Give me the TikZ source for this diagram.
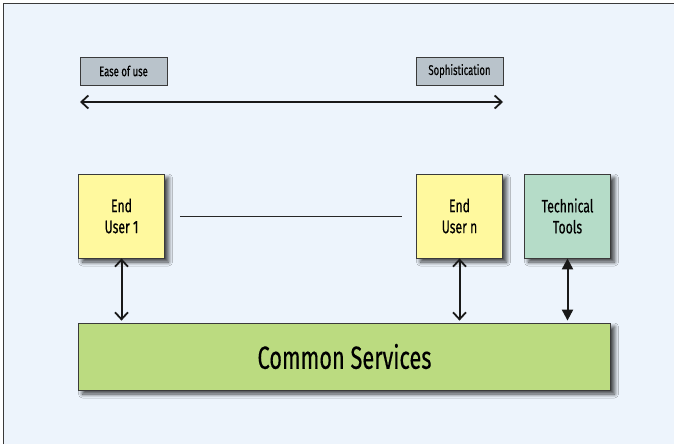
\documentclass[tikz,border=0pt]{standalone}
\usepackage{fontspec}
\setmainfont[FakeStretch=0.68,FakeBold=0.35]{Fira Sans}
\usetikzlibrary{arrows.meta,shadows.blur}
\definecolor{bg}{HTML}{EDF4FC}
\definecolor{lblgray}{HTML}{B9C3CB}
\definecolor{useryel}{HTML}{FFF99E}
\definecolor{techgreen}{HTML}{B5DCC8}
\definecolor{csgreen}{HTML}{BBDB80}
\definecolor{edge}{HTML}{3A3A3A}
\tikzset{
  shad/.style={blur shadow={shadow xshift=4pt,shadow yshift=-4pt,shadow blur steps=8,shadow blur radius=4pt,shadow opacity=75}},
  lbl/.style={draw=edge,line width=0.8pt,fill=lblgray,minimum width=87pt,minimum height=28pt,inner sep=0pt,font=\fontsize{14}{16}\selectfont},
  ubox/.style={draw=edge,line width=0.8pt,shad,minimum width=86pt,minimum height=84pt,inner sep=0pt,align=center,font=\fontsize{18}{21}\selectfont},
  cs/.style={draw=edge,line width=0.8pt,shad,fill=csgreen,minimum width=532pt,minimum height=67pt,inner sep=0pt,font=\fontsize{32}{34}\selectfont},
  conn/.style={line width=2pt,black!90},
  openarr/.style={conn,{Straight Barb[length=7pt,width=13pt,line width=1.8pt]}-{Straight Barb[length=7pt,width=13pt,line width=1.8pt]}},
  filarr/.style={conn,{Triangle[length=11pt,width=11pt]}-{Triangle[length=11pt,width=11pt]}}
}
\begin{document}
\begin{tikzpicture}[x=1pt,y=-1pt]
\useasboundingbox (0,0) rectangle (674,444);
\fill[bg] (3.5,3.5) rectangle (674,444);
\draw[edge,line width=1pt] (3.5,444) -- (3.5,3.5) -- (674,3.5);
\node[lbl] (ease) at (123.5,71) {Ease of use};
\node[lbl] (soph) at (459.5,71) {Sophistication};
\coordinate (sl) at (80,102);
\coordinate (sr) at (503,102);
\draw[openarr] (sl) -- (sr);
\node[ubox,fill=useryel] (eu1) at (121.5,216) {End\\User 1};
\node[ubox,fill=useryel] (eun) at (459.5,216) {End\\User n};
\node[ubox,fill=techgreen] (tt) at (567.5,216) {Technical\\Tools};
\node[cs] (cs) at (344.5,356.5) {Common Services};
\draw[line width=0.9pt,black!85,shorten <=15pt,shorten >=14pt] (eu1.east) -- (eun.west);
\draw[openarr,shorten >=2pt] (eu1.south) -- (eu1.south |- cs.north);
\draw[openarr,shorten >=2pt] (eun.south) -- (eun.south |- cs.north);
\draw[filarr,shorten >=2pt] (tt.south) -- (tt.south |- cs.north);
\end{tikzpicture}
\end{document}
